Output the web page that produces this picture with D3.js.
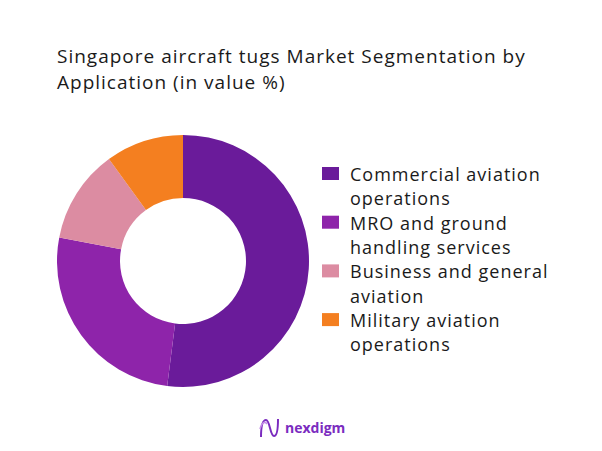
<!DOCTYPE html>
<html lang="en">
<head>
<meta charset="utf-8">
<script src="https://d3js.org/d3.v7.min.js"></script>
<style>
  body { margin: 0; background: #fff; }
  svg text { font-family: "Open Sans", sans-serif; }
</style>
</head>
<body>
<script>
    var width = 602;
    var height = 451;

    // data
    var categories = ["Commercial aviation operations", "MRO and ground handling services",
                      "Business and general aviation", "Military aviation operations"];
    var values = [52, 26, 12, 10];
    var legendLines = [["Commercial aviation", "operations"],
                       ["MRO and ground", "handling services"],
                       ["Business and general", "aviation"],
                       ["Military aviation", "operations"]];
    var colors = ["#6a1b9a", "#8e24aa", "#dc8ca2", "#f47f20"];
    var titleLines = ["Singapore aircraft tugs Market Segmentation by", "Application (in value %)"];

    var svg = d3.select("body").append("svg")
                .attr("width", width)
                .attr("height", height);

    // title
    svg.append("g").selectAll("text")
       .data(titleLines)
       .enter().append("text")
       .attr("x", 57)
       .attr("y", function(d, i) { return 63 + i * 26; })
       .attr("font-size", 19)
       .attr("letter-spacing", 1)
       .attr("fill", "#1a1a1a")
       .text(function(d) { return d; });

    // donut
    var color = d3.scaleOrdinal().domain(categories).range(colors);
    var pie = d3.pie().sort(null).value(function(d) { return d.v; });
    var arc = d3.arc().innerRadius(63).outerRadius(126);
    var rows = categories.map(function(c, i) { return { name: c, v: values[i] }; });

    svg.append("g")
       .attr("transform", "translate(183,261)")
       .selectAll("path")
       .data(pie(rows))
       .enter().append("path")
       .attr("d", arc)
       .attr("fill", function(d) { return color(d.data.name); });

    // legend
    var legend = svg.append("g").selectAll("g")
       .data(categories)
       .enter().append("g")
       .attr("transform", function(d, i) { return "translate(322," + (167 + i * 48.7) + ")"; });

    legend.append("rect")
       .attr("width", 17).attr("height", 13)
       .attr("fill", function(d) { return color(d); });

    legend.each(function(d, i) {
        d3.select(this).selectAll("text")
          .data(legendLines[i])
          .enter().append("text")
          .attr("x", 28)
          .attr("y", function(t, j) { return 14 + j * 24.3; })
          .attr("font-size", 18)
          .attr("letter-spacing", 1)
          .attr("fill", "#1a1a1a")
          .text(function(t) { return t; });
    });

    // logo
    var logo = svg.append("g").attr("transform", "translate(259,418)");
    logo.append("path")
        .attr("d", "M2,19 C2,8 4,2 7,2 C11,2 11,18 15,18 C18,18 19,10 19,1")
        .attr("fill", "none")
        .attr("stroke", "#7b2cbf")
        .attr("stroke-width", 2);
    logo.append("path")
        .attr("d", "M1,11 C3,4 6,3 8,6")
        .attr("fill", "none")
        .attr("stroke", "#c48de8")
        .attr("stroke-width", 1.5);
    logo.append("text")
        .attr("x", 26).attr("y", 15)
        .attr("font-size", 14)
        .attr("font-weight", "bold")
        .attr("fill", "#7b2cbf")
        .text("nexdigm");
</script>
</body>
</html>
